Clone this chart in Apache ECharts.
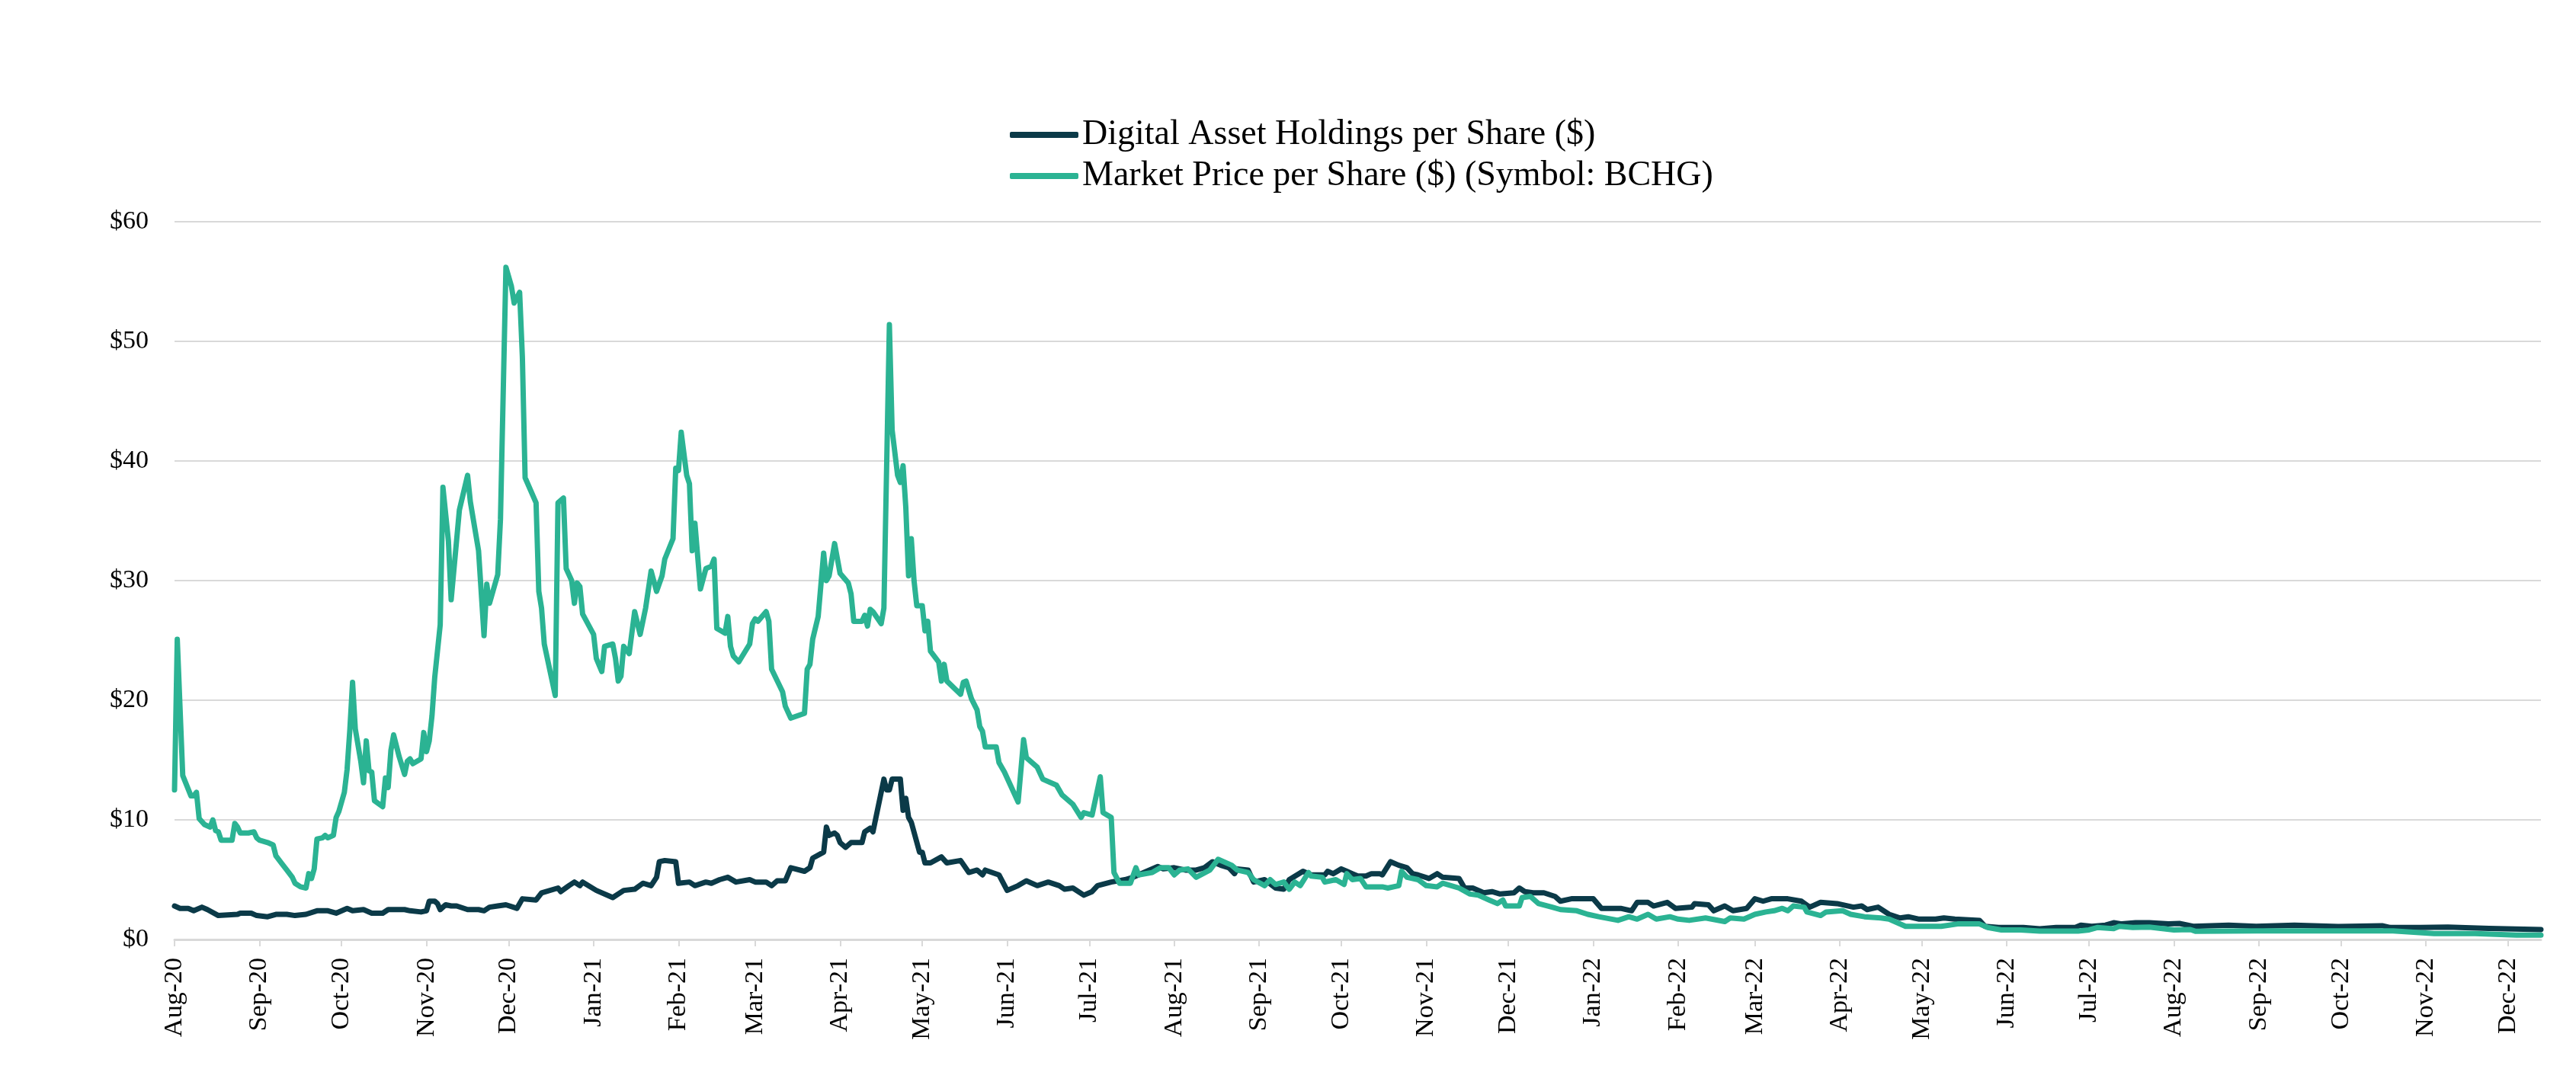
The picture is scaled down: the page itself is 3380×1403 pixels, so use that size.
<!DOCTYPE html>
<html>
<head>
<meta charset="utf-8">
<script src="https://cdn.jsdelivr.net/npm/echarts@6/dist/echarts.min.js"></script>
<style>
  html, body { margin: 0; padding: 0; background: #ffffff; }
  #chart { width: 3380px; height: 1403px; }
</style>
</head>
<body>
<div id="chart"></div>
<script>
// ---- Data ----
const seriesNames = ['Digital Asset Holdings per Share ($)', 'Market Price per Share ($) (Symbol: BCHG)'];

// Month-start tick positions (labels formatted as Mon-YY)
const tickDates = ['2020-08-01','2020-09-01','2020-10-01','2020-11-01','2020-12-01',
  '2021-01-01','2021-02-01','2021-03-01','2021-04-01','2021-05-01','2021-06-01','2021-07-01',
  '2021-08-01','2021-09-01','2021-10-01','2021-11-01','2021-12-01',
  '2022-01-01','2022-02-01','2022-03-01','2022-04-01','2022-05-01','2022-06-01','2022-07-01',
  '2022-08-01','2022-09-01','2022-10-01','2022-11-01','2022-12-01'];
const monthNames = ['Jan','Feb','Mar','Apr','May','Jun','Jul','Aug','Sep','Oct','Nov','Dec'];
const axisStart = '2020-08-01';
const axisEnd = '2022-12-13';
const yTicks = [0, 10, 20, 30, 40, 50, 60];

const holdings = [
  ['2020-08-01',2.8],['2020-08-03',2.6],['2020-08-06',2.6],['2020-08-08',2.4],['2020-08-11',2.7],['2020-08-13',2.5],['2020-08-17',2.0],['2020-08-24',2.1],['2020-08-25',2.2],['2020-08-29',2.2],['2020-08-31',2.0],
  ['2020-09-04',1.9],['2020-09-07',2.1],['2020-09-11',2.1],['2020-09-14',2.0],['2020-09-18',2.1],['2020-09-22',2.4],['2020-09-26',2.4],['2020-09-29',2.2],
  ['2020-10-03',2.6],['2020-10-05',2.4],['2020-10-09',2.5],['2020-10-12',2.2],['2020-10-16',2.2],['2020-10-18',2.5],['2020-10-24',2.5],['2020-10-26',2.4],['2020-10-30',2.3],
  ['2020-11-01',2.4],['2020-11-02',3.2],['2020-11-04',3.2],['2020-11-05',3.0],['2020-11-06',2.5],['2020-11-08',2.9],['2020-11-10',2.8],['2020-11-12',2.8],['2020-11-16',2.5],['2020-11-20',2.5],['2020-11-22',2.4],['2020-11-24',2.7],['2020-11-27',2.8],['2020-11-30',2.9],
  ['2020-12-04',2.6],['2020-12-06',3.4],['2020-12-11',3.3],['2020-12-13',3.9],['2020-12-19',4.3],['2020-12-20',4.0],['2020-12-23',4.5],['2020-12-25',4.8],['2020-12-27',4.5],['2020-12-28',4.8],
  ['2021-01-02',4.1],['2021-01-08',3.5],['2021-01-12',4.1],['2021-01-16',4.2],['2021-01-19',4.7],['2021-01-22',4.5],['2021-01-24',5.2],['2021-01-25',6.5],['2021-01-27',6.6],['2021-01-31',6.5],
  ['2021-02-01',4.7],['2021-02-05',4.8],['2021-02-07',4.5],['2021-02-11',4.8],['2021-02-13',4.7],['2021-02-16',5.0],['2021-02-19',5.2],['2021-02-22',4.8],['2021-02-27',5.0],
  ['2021-03-01',4.8],['2021-03-05',4.8],['2021-03-07',4.5],['2021-03-09',4.9],['2021-03-12',4.9],['2021-03-14',6.0],['2021-03-19',5.7],['2021-03-21',6.0],['2021-03-22',6.8],['2021-03-26',7.3],['2021-03-27',9.4],['2021-03-28',8.7],['2021-03-30',8.9],['2021-03-31',8.7],
  ['2021-04-01',8.1],['2021-04-03',7.7],['2021-04-05',8.1],['2021-04-09',8.1],['2021-04-10',9.0],['2021-04-12',9.3],['2021-04-13',9.0],['2021-04-17',13.4],['2021-04-18',12.5],['2021-04-19',12.5],['2021-04-20',13.4],['2021-04-23',13.4],['2021-04-24',10.8],['2021-04-25',11.8],['2021-04-26',10.2],['2021-04-27',9.8],['2021-04-30',7.3],
  ['2021-05-01',7.3],['2021-05-02',6.4],['2021-05-04',6.4],['2021-05-08',6.9],['2021-05-10',6.4],['2021-05-15',6.6],['2021-05-18',5.6],['2021-05-21',5.8],['2021-05-23',5.4],['2021-05-24',5.8],['2021-05-29',5.4],
  ['2021-06-01',4.1],['2021-06-05',4.5],['2021-06-08',4.9],['2021-06-12',4.5],['2021-06-16',4.8],['2021-06-20',4.5],['2021-06-22',4.2],['2021-06-25',4.3],['2021-06-29',3.7],
  ['2021-07-02',4.0],['2021-07-04',4.5],['2021-07-09',4.8],['2021-07-14',5.0],['2021-07-17',5.2],['2021-07-21',5.6],['2021-07-26',6.1],['2021-07-28',5.9],
  ['2021-08-01',6.0],['2021-08-05',5.8],['2021-08-09',5.8],['2021-08-12',6.0],['2021-08-15',6.5],['2021-08-18',6.2],['2021-08-21',6.0],['2021-08-23',5.5],['2021-08-24',5.9],['2021-08-28',5.8],['2021-08-30',4.8],
  ['2021-09-03',5.0],['2021-09-07',4.3],['2021-09-10',4.2],['2021-09-12',5.0],['2021-09-17',5.7],['2021-09-20',5.4],['2021-09-25',5.4],['2021-09-26',5.7],['2021-09-28',5.5],
  ['2021-10-01',5.9],['2021-10-03',5.7],['2021-10-05',5.5],['2021-10-07',5.3],['2021-10-10',5.3],['2021-10-12',5.5],['2021-10-15',5.5],['2021-10-16',5.4],['2021-10-19',6.5],['2021-10-22',6.2],['2021-10-25',6.0],['2021-10-27',5.5],['2021-10-29',5.4],
  ['2021-11-02',5.1],['2021-11-05',5.5],['2021-11-07',5.2],['2021-11-13',5.1],['2021-11-15',4.3],['2021-11-18',4.3],['2021-11-22',3.9],['2021-11-25',4.0],['2021-11-28',3.8],
  ['2021-12-03',3.9],['2021-12-05',4.3],['2021-12-07',4.0],['2021-12-10',3.9],['2021-12-14',3.9],['2021-12-18',3.6],['2021-12-20',3.2],['2021-12-24',3.4],['2021-12-27',3.4],
  ['2022-01-01',3.4],['2022-01-04',2.6],['2022-01-08',2.6],['2022-01-11',2.6],['2022-01-15',2.4],['2022-01-17',3.1],['2022-01-21',3.1],['2022-01-23',2.8],['2022-01-28',3.1],['2022-01-31',2.6],
  ['2022-02-06',2.7],['2022-02-07',3.0],['2022-02-12',2.9],['2022-02-14',2.4],['2022-02-18',2.8],['2022-02-21',2.4],['2022-02-26',2.6],
  ['2022-03-01',3.4],['2022-03-04',3.2],['2022-03-07',3.4],['2022-03-13',3.4],['2022-03-18',3.2],['2022-03-21',2.7],['2022-03-25',3.1],['2022-03-31',3.0],
  ['2022-04-06',2.7],['2022-04-09',2.8],['2022-04-11',2.5],['2022-04-15',2.7],['2022-04-19',2.1],['2022-04-23',1.8],['2022-04-26',1.9],['2022-04-30',1.7],
  ['2022-05-06',1.7],['2022-05-09',1.8],['2022-05-13',1.7],['2022-05-22',1.6],['2022-05-24',1.1],['2022-05-29',1.0],
  ['2022-06-07',1.0],['2022-06-13',0.9],['2022-06-19',1.0],['2022-06-26',1.0],['2022-06-28',1.2],
  ['2022-07-02',1.1],['2022-07-07',1.2],['2022-07-10',1.4],['2022-07-13',1.3],['2022-07-18',1.4],['2022-07-23',1.4],['2022-07-30',1.3],
  ['2022-08-03',1.34],['2022-08-08',1.1],['2022-08-21',1.2],['2022-08-31',1.1],
  ['2022-09-14',1.2],['2022-09-30',1.08],
  ['2022-10-16',1.15],['2022-10-19',1.0],['2022-10-30',1.0],
  ['2022-11-09',1.04],['2022-11-24',0.93],
  ['2022-12-13',0.83]
];

const price = [
  ['2020-08-01',12.5],['2020-08-02',25.1],['2020-08-04',13.7],['2020-08-07',12.0],['2020-08-08',12.0],['2020-08-09',12.3],['2020-08-10',10.1],['2020-08-12',9.6],['2020-08-14',9.4],['2020-08-15',10.0],['2020-08-16',9.1],['2020-08-17',9.0],['2020-08-18',8.3],['2020-08-22',8.3],['2020-08-23',9.7],['2020-08-24',9.4],['2020-08-25',8.9],['2020-08-28',8.9],['2020-08-30',9.0],['2020-08-31',8.5],
  ['2020-09-01',8.3],['2020-09-04',8.1],['2020-09-06',7.9],['2020-09-07',7.0],['2020-09-09',6.4],['2020-09-11',5.8],['2020-09-13',5.2],['2020-09-14',4.7],['2020-09-16',4.4],['2020-09-18',4.3],['2020-09-19',5.5],['2020-09-20',5.1],['2020-09-21',5.9],['2020-09-22',8.4],['2020-09-24',8.5],['2020-09-25',8.7],['2020-09-26',8.5],['2020-09-28',8.7],['2020-09-29',10.2],['2020-09-30',10.7],
  ['2020-10-02',12.3],['2020-10-03',14.2],['2020-10-04',17.5],['2020-10-05',21.5],['2020-10-06',17.6],['2020-10-08',14.9],['2020-10-09',13.1],['2020-10-10',16.6],['2020-10-11',14.1],['2020-10-12',14.0],['2020-10-13',11.6],['2020-10-16',11.1],['2020-10-17',13.5],['2020-10-18',12.7],['2020-10-19',15.8],['2020-10-20',17.1],['2020-10-22',15.3],['2020-10-24',13.8],['2020-10-25',14.9],['2020-10-26',15.1],['2020-10-27',14.7],['2020-10-30',15.1],['2020-10-31',17.3],
  ['2020-11-01',15.7],['2020-11-02',16.6],['2020-11-03',18.7],['2020-11-04',21.9],['2020-11-06',26.3],['2020-11-07',37.8],['2020-11-09',33.3],['2020-11-10',28.4],['2020-11-13',35.9],['2020-11-16',38.8],['2020-11-17',36.6],['2020-11-20',32.5],['2020-11-22',25.4],['2020-11-23',29.7],['2020-11-24',28.1],['2020-11-27',30.5],['2020-11-28',35.1],['2020-11-30',56.2],
  ['2020-12-02',54.6],['2020-12-03',53.2],['2020-12-05',54.1],['2020-12-06',48.7],['2020-12-07',38.6],['2020-12-11',36.5],['2020-12-12',29.1],['2020-12-13',27.7],['2020-12-14',24.7],['2020-12-18',20.4],['2020-12-19',36.5],['2020-12-21',36.9],['2020-12-22',31.0],['2020-12-24',30.0],['2020-12-25',28.1],['2020-12-26',29.8],['2020-12-27',29.5],['2020-12-28',27.2],
  ['2021-01-01',25.5],['2021-01-02',23.5],['2021-01-04',22.4],['2021-01-05',24.5],['2021-01-08',24.7],['2021-01-09',23.5],['2021-01-10',21.6],['2021-01-11',22.0],['2021-01-12',24.5],['2021-01-14',23.9],['2021-01-16',27.4],['2021-01-18',25.5],['2021-01-20',27.7],['2021-01-22',30.8],['2021-01-24',29.1],['2021-01-26',30.4],['2021-01-27',31.8],['2021-01-30',33.5],['2021-01-31',39.4],
  ['2021-02-01',39.2],['2021-02-02',42.4],['2021-02-04',38.8],['2021-02-05',38.1],['2021-02-06',32.5],['2021-02-07',34.8],['2021-02-09',29.3],['2021-02-11',31.0],['2021-02-13',31.2],['2021-02-14',31.8],['2021-02-15',26.0],['2021-02-18',25.6],['2021-02-19',27.0],['2021-02-20',24.5],['2021-02-21',23.7],['2021-02-23',23.2],['2021-02-27',24.7],['2021-02-28',26.4],
  ['2021-03-01',26.8],['2021-03-02',26.6],['2021-03-05',27.4],['2021-03-06',26.6],['2021-03-07',22.6],['2021-03-11',20.7],['2021-03-12',19.5],['2021-03-14',18.5],['2021-03-19',18.9],['2021-03-20',22.6],['2021-03-21',23.0],['2021-03-22',25.1],['2021-03-24',27.0],['2021-03-26',32.3],['2021-03-27',30.0],['2021-03-28',30.4],['2021-03-30',33.1],
  ['2021-04-01',30.6],['2021-04-04',29.8],['2021-04-05',28.9],['2021-04-06',26.6],['2021-04-09',26.6],['2021-04-10',27.1],['2021-04-11',26.2],['2021-04-12',27.6],['2021-04-13',27.4],['2021-04-16',26.4],['2021-04-17',27.7],['2021-04-19',51.4],['2021-04-20',42.6],['2021-04-22',38.8],['2021-04-23',38.2],['2021-04-24',39.6],['2021-04-25',36.1],['2021-04-26',30.4],['2021-04-27',33.5],['2021-04-28',30.0],['2021-04-29',27.9],
  ['2021-05-01',27.9],['2021-05-02',25.8],['2021-05-03',26.6],['2021-05-04',24.1],['2021-05-07',23.2],['2021-05-08',21.6],['2021-05-09',23.0],['2021-05-10',21.6],['2021-05-15',20.5],['2021-05-16',21.5],['2021-05-17',21.6],['2021-05-19',20.1],['2021-05-21',19.2],['2021-05-22',17.8],['2021-05-23',17.4],['2021-05-24',16.1],['2021-05-28',16.1],['2021-05-29',14.8],['2021-05-31',14.0],
  ['2021-06-05',11.5],['2021-06-07',16.7],['2021-06-08',15.2],['2021-06-12',14.4],['2021-06-14',13.4],['2021-06-19',12.9],['2021-06-21',12.1],['2021-06-25',11.3],['2021-06-28',10.2],['2021-06-29',10.6],
  ['2021-07-02',10.4],['2021-07-05',13.6],['2021-07-06',10.6],['2021-07-09',10.2],['2021-07-10',5.6],['2021-07-12',4.7],['2021-07-16',4.7],['2021-07-18',6.0],['2021-07-19',5.4],['2021-07-24',5.6],['2021-07-27',6.0],['2021-07-30',6.0],
  ['2021-08-01',5.4],['2021-08-03',5.8],['2021-08-06',5.9],['2021-08-09',5.2],['2021-08-14',5.8],['2021-08-17',6.7],['2021-08-22',6.2],['2021-08-24',5.8],['2021-08-28',5.6],['2021-08-30',5.0],
  ['2021-09-03',4.5],['2021-09-05',5.0],['2021-09-07',4.6],['2021-09-10',4.8],['2021-09-12',4.2],['2021-09-14',4.8],['2021-09-16',4.5],['2021-09-19',5.6],['2021-09-20',5.3],['2021-09-24',5.2],['2021-09-25',4.8],['2021-09-29',5.0],
  ['2021-10-02',4.6],['2021-10-03',5.5],['2021-10-05',5.0],['2021-10-08',5.1],['2021-10-10',4.4],['2021-10-13',4.4],['2021-10-16',4.4],['2021-10-18',4.3],['2021-10-22',4.5],['2021-10-23',5.7],['2021-10-25',5.2],['2021-10-29',5.0],
  ['2021-11-01',4.5],['2021-11-05',4.4],['2021-11-07',4.7],['2021-11-13',4.3],['2021-11-17',3.8],['2021-11-20',3.7],['2021-11-24',3.3],['2021-11-27',3.0],['2021-11-29',3.3],['2021-11-30',2.8],
  ['2021-12-05',2.8],['2021-12-06',3.5],['2021-12-09',3.6],['2021-12-12',3.0],['2021-12-17',2.7],['2021-12-20',2.5],['2021-12-26',2.4],['2021-12-30',2.1],
  ['2022-01-03',1.9],['2022-01-10',1.6],['2022-01-14',1.9],['2022-01-17',1.7],['2022-01-21',2.1],['2022-01-24',1.7],['2022-01-29',1.9],
  ['2022-02-01',1.7],['2022-02-05',1.6],['2022-02-11',1.8],['2022-02-18',1.5],['2022-02-20',1.8],['2022-02-25',1.7],
  ['2022-03-01',2.1],['2022-03-05',2.3],['2022-03-08',2.4],['2022-03-11',2.6],['2022-03-13',2.4],['2022-03-15',2.8],['2022-03-19',2.7],['2022-03-20',2.3],['2022-03-25',2.0],['2022-03-27',2.3],
  ['2022-04-02',2.4],['2022-04-05',2.1],['2022-04-10',1.9],['2022-04-16',1.8],['2022-04-19',1.7],['2022-04-25',1.1],['2022-04-30',1.1],
  ['2022-05-08',1.1],['2022-05-14',1.3],['2022-05-22',1.3],['2022-05-25',1.0],['2022-05-30',0.8],
  ['2022-06-06',0.8],['2022-06-13',0.7],['2022-06-19',0.7],['2022-06-27',0.7],
  ['2022-07-01',0.8],['2022-07-04',1.0],['2022-07-10',0.9],['2022-07-12',1.1],['2022-07-17',1.0],['2022-07-23',1.04],
  ['2022-08-01',0.79],['2022-08-07',0.83],['2022-08-09',0.68],['2022-08-31',0.72],
  ['2022-09-20',0.72],['2022-10-15',0.72],['2022-10-20',0.72],
  ['2022-11-04',0.5],['2022-11-19',0.5],
  ['2022-12-04',0.36],['2022-12-13',0.36]
];

// ---- Chart ----
function toTime(s) {
  const p = s.split('-').map(Number);
  return Date.UTC(p[0], p[1] - 1, p[2]);
}
const tickValues = tickDates.map(toTime);
const FONT = "'Liberation Serif', 'Times New Roman', serif";
const COLOR_DARK = '#0b3a48';
const COLOR_GREEN = '#2bb393';
const GRID_COLOR = '#d9d9d9';

const holdingsData = holdings.map(function (d) { return [toTime(d[0]), d[1]]; });
const priceData = price.map(function (d) { return [toTime(d[0]), d[1]]; });

const chart = echarts.init(document.getElementById('chart'), null, { renderer: 'canvas' });
chart.setOption({
  backgroundColor: '#ffffff',
  animation: false,
  textStyle: { fontFamily: FONT, color: '#000' },
  legend: {
    orient: 'vertical',
    left: 1320,
    top: 149,
    itemWidth: 90,
    itemHeight: 8,
    itemGap: 8,
    icon: 'roundRect',
    data: seriesNames,
    textStyle: { fontFamily: FONT, fontSize: 46, lineHeight: 46, color: '#000' }
  },
  grid: { left: 229, right: 46, top: 291, bottom: 170, containLabel: false },
  xAxis: {
    type: 'value',
    min: toTime(axisStart),
    max: toTime(axisEnd),
    scale: true,
    axisLine: { show: true, lineStyle: { color: GRID_COLOR, width: 3 } },
    axisTick: { show: true, customValues: tickValues, length: 9, lineStyle: { color: GRID_COLOR, width: 2 } },
    splitLine: { show: false },
    axisLabel: {
      customValues: tickValues,
      rotate: 90,
      margin: 24,
      fontFamily: FONT,
      fontSize: 34,
      color: '#000',
      formatter: function (v) {
        const d = new Date(v);
        return monthNames[d.getUTCMonth()] + '-' + String(d.getUTCFullYear()).slice(2);
      }
    }
  },
  yAxis: {
    type: 'value',
    min: yTicks[0],
    max: yTicks[yTicks.length - 1],
    interval: 10,
    axisLine: { show: false },
    axisTick: { show: false },
    splitLine: { show: true, lineStyle: { color: GRID_COLOR, width: 2 } },
    axisLabel: {
      margin: 34,
      fontFamily: FONT,
      fontSize: 34,
      color: '#000',
      formatter: function (v) { return '$' + v; }
    }
  },
  series: [
    {
      name: seriesNames[0],
      type: 'line',
      data: holdingsData,
      showSymbol: false,
      symbol: 'none',
      color: COLOR_DARK,
      lineStyle: { color: COLOR_DARK, width: 7, cap: 'round', join: 'round' },
      z: 2
    },
    {
      name: seriesNames[1],
      type: 'line',
      data: priceData,
      showSymbol: false,
      symbol: 'none',
      color: COLOR_GREEN,
      lineStyle: { color: COLOR_GREEN, width: 7, cap: 'round', join: 'round' },
      z: 3
    }
  ]
});
</script>
</body>
</html>
